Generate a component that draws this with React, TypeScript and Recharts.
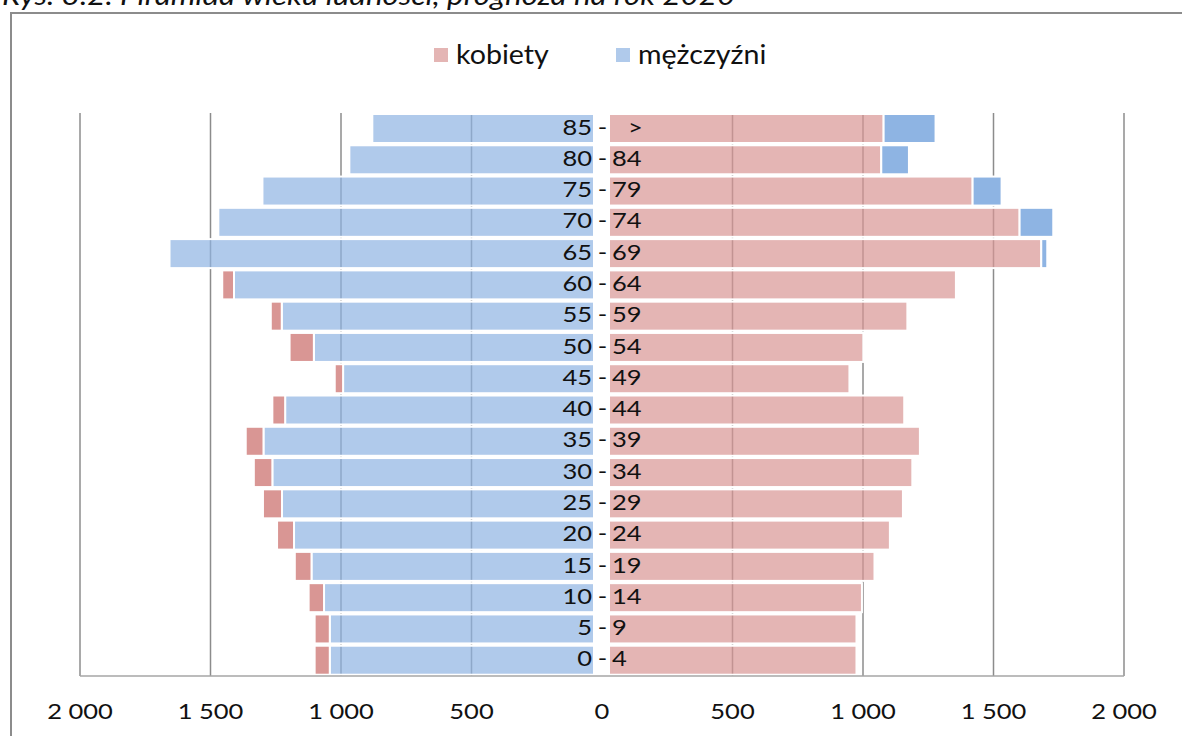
import React from "react";
import { BarChart, Bar, XAxis, YAxis, CartesianGrid } from "recharts";

// age groups, bottom to top
const ageFrom = ["0", "5", "10", "15", "20", "25", "30", "35", "40", "45", "50", "55", "60", "65", "70", "75", "80", "85"];
const ageTo = ["4", "9", "14", "19", "24", "29", "34", "39", "44", "49", "54", "59", "64", "69", "74", "79", "84", ">"];

// left side: men (light blue) + darker red overhang
const menBase = [1043, 1043, 1065, 1113, 1180, 1226, 1263, 1297, 1214, 992, 1104, 1227, 1410, 1657, 1470, 1301, 968, 880];
const menExtra = [58, 58, 59, 64, 65, 73, 71, 68, 49, 32, 93, 42, 45, 0, 0, 0, 0, 0];

// right side: women (light pink) + darker blue overhang
const womenBase = [975, 975, 996, 1044, 1103, 1153, 1189, 1218, 1158, 948, 1001, 1170, 1356, 1683, 1600, 1420, 1070, 1079];
const womenExtra = [0, 0, 0, 0, 0, 0, 0, 0, 0, 0, 0, 0, 0, 23, 129, 111, 106, 199];

const axisTicks = [-2000, -1500, -1000, -500, 0, 500, 1000, 1500, 2000];
const gridValues = [-2000, -1500, -1000, -500, 500, 1000, 1500, 2000];

const legendItems = [
  { label: "kobiety", color: "#d99694" },
  { label: "mężczyźni", color: "#8eb4e3" },
];

const data = ageFrom.map((from, i) => ({
  age: `${from} - ${ageTo[i]}`,
  menBase: -menBase[i],
  menExtra: -menExtra[i],
  womenBase: womenBase[i],
  womenExtra: womenExtra[i],
}));

const W = 1182;
const H = 736;
const MARGIN = { top: 113, right: 58, bottom: 0, left: 79 };
const Y_AXIS_W = 1;
const X_AXIS_H = 60;
const PLOT_LEFT = MARGIN.left + Y_AXIS_W;
const CENTER_X = PLOT_LEFT + (W - PLOT_LEFT - MARGIN.right) / 2;
const PLOT_BOTTOM = H - MARGIN.bottom - X_AXIS_H;
const FONT = "Lato, 'Open Sans', sans-serif";
const STRETCH = 1.16;

const BLUE = "#8eb4e3";
const RED = "#d99694";

const fmt = (v: number) => String(Math.abs(v)).replace(/\B(?=(\d{3})+(?!\d))/g, " ");

// bars leave a little white gap at the centre line, where the age labels sit
const makeShape = (gapSide: "left" | "right" | null, gap: number) => (props: any) => {
  const { x, y, width, height, fill, fillOpacity } = props;
  let x0 = Math.min(x, x + width);
  let x1 = Math.max(x, x + width);
  if (gapSide === "right") x1 -= gap;
  if (gapSide === "left") x0 += gap;
  if (x1 - x0 < 0.5) return <g />;
  return (
    <rect
      x={x0}
      y={y}
      width={x1 - x0}
      height={height}
      fill={fill}
      fillOpacity={fillOpacity}
      stroke="#fff"
      strokeWidth={2}
    />
  );
};

const AgeTick = (props: any) => {
  const { y, index } = props;
  const to = ageTo[index];
  const base = y + 6;
  return (
    <g fill="#111" fontSize={22} fontFamily={FONT}>
      <text textAnchor="end" transform={`translate(${CENTER_X - 10},${base}) scale(${STRETCH},1)`}>
        {ageFrom[index]}
      </text>
      <text textAnchor="middle" transform={`translate(${CENTER_X + 0.5},${base}) scale(${STRETCH},1)`}>
        -
      </text>
      <text
        textAnchor="start"
        transform={`translate(${CENTER_X + (to === ">" ? 26 : 10)},${base}) scale(${STRETCH},1)`}
      >
        {to}
      </text>
    </g>
  );
};

const ValueTick = (props: any) => {
  const { x, payload } = props;
  return (
    <text
      textAnchor="middle"
      fill="#111"
      fontSize={22}
      fontFamily={FONT}
      transform={`translate(${x},${PLOT_BOTTOM + 43}) scale(${STRETCH},1)`}
    >
      {fmt(payload.value)}
    </text>
  );
};

const ChartLegend = () => (
  <svg width={W} height={50} style={{ position: "absolute", left: 0, top: 30, display: "block" }}>
    {legendItems.map((item, i) => {
      const left = i === 0 ? 434 : 616;
      return (
        <g key={item.label}>
          <rect x={left} y={18} width={14} height={14} fill={item.color} fillOpacity={0.7} />
          <text
            fill="#111"
            fontSize={26}
            fontFamily={FONT}
            transform={`translate(${left + 22},${34}) scale(1.1,1)`}
          >
            {item.label}
          </text>
        </g>
      );
    })}
  </svg>
);

export default function App() {
  return (
    <div
      style={{
        position: "absolute",
        left: 0,
        top: 0,
        width: W,
        height: H,
        overflow: "hidden",
        background: "#fff",
      }}
    >
      <div
        style={{
          position: "absolute",
          left: 2,
          top: -22,
          fontFamily: FONT,
          fontStyle: "italic",
          fontSize: 27,
          whiteSpace: "nowrap",
          color: "#111",
          transform: `scaleX(${STRETCH})`,
          transformOrigin: "left top",
        }}
      >
        Rys. 3.2. Piramida wieku ludności, prognoza na rok 2020
      </div>
      <div
        style={{
          position: "absolute",
          left: 10,
          top: 12,
          width: W + 40,
          height: H + 40,
          border: "2px solid #8c8c8c",
        }}
      />
      <ChartLegend />
      <div style={{ position: "absolute", left: 0, top: 0 }}>
        <BarChart
          width={W}
          height={H}
          data={data}
          layout="vertical"
          stackOffset="sign"
          barCategoryGap={0}
          barSize={29}
          margin={MARGIN}
        >
          <CartesianGrid
            horizontal={false}
            vertical
            verticalValues={gridValues}
            stroke="#8c8c8c"
            strokeWidth={1.5}
          />
          <XAxis
            type="number"
            domain={[-2000, 2000]}
            ticks={axisTicks}
            height={X_AXIS_H}
            tickLine={false}
            axisLine={{ stroke: "#a6a6a6", strokeWidth: 1.5 }}
            tick={<ValueTick />}
            interval={0}
          />
          <YAxis
            type="category"
            dataKey="age"
            reversed
            width={Y_AXIS_W}
            axisLine={false}
            tickLine={false}
            tick={<AgeTick />}
            interval={0}
          />
          <Bar
            dataKey="menBase"
            name="mężczyźni"
            stackId="pyr"
            fill={BLUE}
            fillOpacity={0.7}
            shape={makeShape("right", 8)}
            isAnimationActive={false}
          />
          <Bar
            dataKey="menExtra"
            stackId="pyr"
            fill={RED}
            shape={makeShape(null, 0)}
            isAnimationActive={false}
          />
          <Bar
            dataKey="womenBase"
            name="kobiety"
            stackId="pyr"
            fill={RED}
            fillOpacity={0.7}
            shape={makeShape("left", 7)}
            isAnimationActive={false}
          />
          <Bar
            dataKey="womenExtra"
            stackId="pyr"
            fill={BLUE}
            shape={makeShape(null, 0)}
            isAnimationActive={false}
          />
        </BarChart>
      </div>
    </div>
  );
}
